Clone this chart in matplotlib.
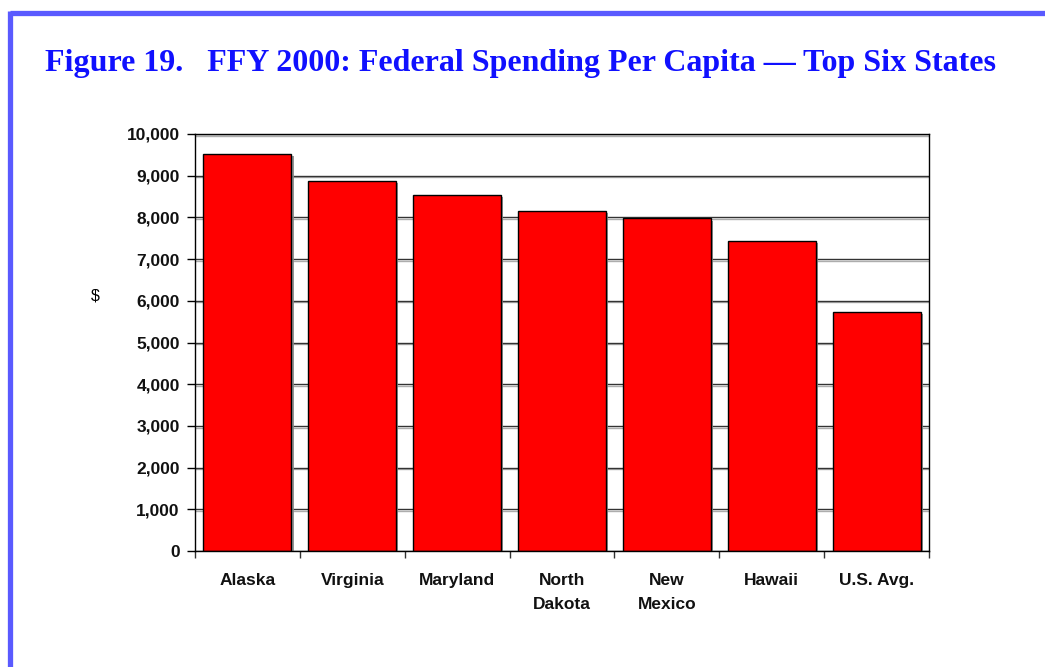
import matplotlib.pyplot as plt
import matplotlib.patheffects as pe
from matplotlib.lines import Line2D
from matplotlib.ticker import FuncFormatter

plt.rcParams["savefig.dpi"] = 100

states = ["Alaska", "Virginia", "Maryland", "North\nDakota", "New\nMexico", "Hawaii", "U.S. Avg."]
spending = [9520, 8880, 8530, 8160, 7975, 7430, 5740]

fig = plt.figure(figsize=(10.45, 6.67))
ax = fig.add_axes([195 / 1045, 1 - 551 / 667, 734 / 1045, 417 / 667])

# gridlines with a faint drop shadow, like the original export
ax.set_axisbelow(True)
ax.yaxis.grid(True, color="#333333", linewidth=1.0,
              path_effects=[pe.SimpleLineShadow(offset=(0, -1.2), shadow_color="#999999", alpha=0.8), pe.Normal()])

x = list(range(len(states)))
ax.bar(x, spending, width=0.84, color="#ff0000", edgecolor="black", linewidth=1.0,
       path_effects=[pe.SimplePatchShadow(offset=(1.5, -1.5), shadow_rgbFace="#888888", alpha=0.9), pe.Normal()])

ax.set_xlim(-0.5, len(states) - 0.5)
ax.set_ylim(0, 10000)
ax.set_yticks(range(0, 10001, 1000))
ax.yaxis.set_major_formatter(FuncFormatter(lambda v, p: f"{int(v):,}"))

# category labels at bar centres, tick marks between categories
ax.set_xticks(x)
ax.set_xticklabels(states)
ax.set_xticks([i - 0.5 for i in range(len(states) + 1)], minor=True)
ax.tick_params(axis="x", which="major", length=0, pad=16)
ax.tick_params(axis="x", which="minor", length=5, width=1, color="#333333")
ax.tick_params(axis="y", length=6, width=1, pad=5)

for lab in ax.get_xticklabels() + ax.get_yticklabels():
    lab.set_fontfamily("Liberation Sans")
    lab.set_fontweight("bold")
    lab.set_fontsize(12.5)
    lab.set_color("#111111")
for lab in ax.get_xticklabels():
    lab.set_linespacing(1.75)

for s in ax.spines.values():
    s.set_color("black")
    s.set_linewidth(1.0)

fig.text(95 / 1045, 1 - 296 / 667, "$", fontfamily="Liberation Sans", fontsize=11.5,
         ha="center", va="center")

fig.text(45 / 1045, 1 - 63 / 667,
         "Figure 19.   FFY 2000: Federal Spending Per Capita \u2014 Top Six States",
         fontfamily="Liberation Serif", fontweight="bold", fontsize=23, color="#1010ff",
         ha="left", va="center")

# blue frame on the top and left edges
border = "#5a5aff"
fig.add_artist(Line2D([9.5 / 1045, 1.0], [1 - 12.5 / 667, 1 - 12.5 / 667], color=border, linewidth=3.8,
                      transform=fig.transFigure, solid_capstyle="butt"))
fig.add_artist(Line2D([9.5 / 1045, 9.5 / 1045], [0, 1 - 10.6 / 667], color=border, linewidth=3.8,
                      transform=fig.transFigure, solid_capstyle="butt"))

fig.savefig("out.png")
